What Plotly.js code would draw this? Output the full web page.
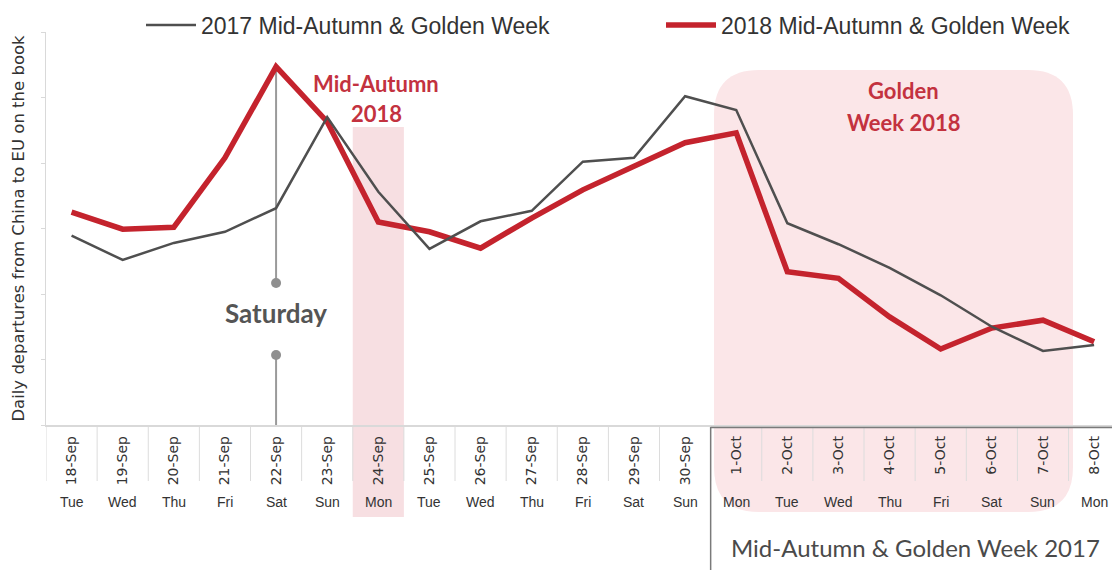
<!DOCTYPE html>
<html>
<head>
<meta charset="utf-8">
<script src="https://cdn.plot.ly/plotly-3.0.1.min.js"></script>
<style>html,body{margin:0;padding:0;background:#fff;}#chart{width:1112px;height:570px;}</style>
</head>
<body>
<div id="chart"></div>
<script>
// ---- data ----
var categories = ['18-Sep','19-Sep','20-Sep','21-Sep','22-Sep','23-Sep','24-Sep','25-Sep','26-Sep','27-Sep','28-Sep','29-Sep','30-Sep',
                  '1-Oct','2-Oct','3-Oct','4-Oct','5-Oct','6-Oct','7-Oct','8-Oct'];
var weekdays = ['Tue','Wed','Thu','Fri','Sat','Sun','Mon','Tue','Wed','Thu','Fri','Sat','Sun',
                'Mon','Tue','Wed','Thu','Fri','Sat','Sun','Mon'];
var departures2017 = [2.89,2.52,2.78,2.95,3.31,4.70,3.56,2.69,3.11,3.27,4.02,4.08,5.02,
                      4.81,3.08,2.76,2.40,1.98,1.50,1.13,1.22];
var departures2018 = [3.25,2.99,3.02,4.08,5.47,4.63,3.10,2.95,2.70,3.16,3.59,3.95,4.31,
                      4.46,2.34,2.24,1.65,1.16,1.48,1.60,1.27];
var seriesNames = ['2017 Mid-Autumn & Golden Week','2018 Mid-Autumn & Golden Week'];
var midAutumnDay = '24-Sep';
var saturdayDay = '22-Sep';
var goldenWeekStart = '1-Oct';

// ---- layout helpers (pixel geometry of the figure) ----
var W = 1112, H = 570, ML = 46, MR = 0, MT = 32, MB = 145;
var PW = W - ML - MR, PH = H - MT - MB;
function px2paperX(px){ return (px - ML) / PW; }
function px2paperY(py){ return (H - MB - py) / PH; }
var YMAX = 6;
function py2val(py){ return (H - MB - py) / PH * YMAX; }

var red = '#c4232d', gray = '#4f4f4f', redText = '#c3323f';

var traces = [
  {x: categories, y: departures2018, name: seriesNames[1], type: 'scatter', mode: 'lines',
   line: {color: red, width: 5.5}, legend: 'legend2'},
  {x: categories, y: departures2017, name: seriesNames[0], type: 'scatter', mode: 'lines',
   line: {color: gray, width: 2.5}, legend: 'legend'}
];

var shapes = [];
// Golden Week 2018 rounded box
(function(){
  var x0 = px2paperX(714), x1 = px2paperX(1073), yt = px2paperY(70), yb = px2paperY(512);
  var rx = 45 / PW, ry = 45 / PH;
  var p = 'M' + (x0+rx) + ',' + yt + ' L' + (x1-rx) + ',' + yt +
          ' Q' + x1 + ',' + yt + ' ' + x1 + ',' + (yt-ry) +
          ' L' + x1 + ',' + (yb+ry) +
          ' Q' + x1 + ',' + yb + ' ' + (x1-rx) + ',' + yb +
          ' L' + (x0+rx) + ',' + yb +
          ' Q' + x0 + ',' + yb + ' ' + x0 + ',' + (yb+ry) +
          ' L' + x0 + ',' + (yt-ry) +
          ' Q' + x0 + ',' + yt + ' ' + (x0+rx) + ',' + yt + ' Z';
  shapes.push({type: 'path', xref: 'paper', yref: 'paper', path: p, fillcolor: '#fbe6e8',
               line: {width: 0}, layer: 'below'});
})();
// Mid-Autumn 2018 band
var mi = categories.indexOf(midAutumnDay);
shapes.push({type: 'rect', xref: 'x', yref: 'paper', x0: mi - 0.5, x1: mi + 0.5,
             y0: px2paperY(517), y1: px2paperY(127), fillcolor: '#f7dfe2', line: {width: 0}, layer: 'below'});
// category separators in label area
for (var i = 0; i <= categories.length; i++) {
  shapes.push({type: 'line', xref: 'x', yref: 'paper', x0: i - 0.5, x1: i - 0.5,
               y0: px2paperY(427), y1: px2paperY(481), line: {color: '#dcdcdc', width: 1}, layer: 'above'});
}
// 2017 box (dark frame)
var gi = categories.indexOf(goldenWeekStart);
shapes.push({type: 'line', xref: 'x', yref: 'paper', x0: gi - 0.5, x1: gi - 0.5,
             y0: px2paperY(427), y1: px2paperY(575), line: {color: '#7a7a7a', width: 1.5}});
shapes.push({type: 'line', xref: 'x', yref: 'paper', x0: gi - 0.5, x1: categories.length,
             y0: px2paperY(427.5), y1: px2paperY(427.5), line: {color: '#7a7a7a', width: 1.5}});
// Saturday marker line + dots
var si = categories.indexOf(saturdayDay);
var dotTop = py2val(283), dotBottom = py2val(355);
shapes.push({type: 'line', xref: 'x', yref: 'y', x0: si, x1: si, y0: departures2018[si], y1: dotTop,
             line: {color: '#9a9a9a', width: 2}, layer: 'below'});
shapes.push({type: 'line', xref: 'x', yref: 'y', x0: si, x1: si, y0: dotBottom, y1: 0,
             line: {color: '#9a9a9a', width: 2}, layer: 'below'});
[dotTop, dotBottom].forEach(function(v){
  shapes.push({type: 'circle', xref: 'x', yref: 'y', xsizemode: 'pixel', ysizemode: 'pixel',
               xanchor: si, yanchor: v, x0: -5, x1: 5, y0: -5, y1: 5,
               fillcolor: '#8f8f8f', line: {width: 0}});
});

var annotations = [];
function note(xref, x, py, text, size, color, family){
  annotations.push({xref: xref, yref: 'paper', x: x, y: px2paperY(py), text: text,
                    xanchor: 'center', yanchor: 'middle', showarrow: false,
                    font: {family: family || 'Lato, sans-serif', size: size, color: color}});
}
// weekday row
categories.forEach(function(c, i){
  note('x', c, 502, weekdays[i], 14, '#333', 'Liberation Sans, Arial, sans-serif');
});
note('paper', px2paperX(915), 547, 'Mid-Autumn & Golden Week 2017', 24, '#4a4a4a');
note('x', saturdayDay, 313, '<b>Saturday</b>', 26, '#555');
note('paper', px2paperX(376), 83, '<b>Mid-Autumn</b>', 22, redText);
note('paper', px2paperX(376), 113, '<b>2018</b>', 22, redText);
note('paper', px2paperX(903), 90, '<b>Golden</b>', 22, redText);
note('paper', px2paperX(903), 122, '<b>Week 2018</b>', 22, redText);

var legendFont = {family: 'Liberation Sans, Arial, sans-serif', size: 23, color: '#333'};
var layout = {
  width: W, height: H,
  margin: {l: ML, r: MR, t: MT, b: MB},
  paper_bgcolor: '#fff', plot_bgcolor: 'rgba(0,0,0,0)',
  showlegend: true,
  legend: {orientation: 'h', x: px2paperX(141), xanchor: 'left', y: px2paperY(25), yanchor: 'middle',
           itemwidth: 50, font: legendFont, bgcolor: 'rgba(0,0,0,0)'},
  legend2: {orientation: 'h', x: px2paperX(661), xanchor: 'left', y: px2paperY(25), yanchor: 'middle',
           itemwidth: 50, font: legendFont, bgcolor: 'rgba(0,0,0,0)'},
  xaxis: {type: 'category', range: [-0.5, 20.35], showgrid: false, zeroline: false,
          showline: true, linecolor: '#d9d9d9', linewidth: 1.5,
          ticks: '', tickangle: -90, ticklabelstandoff: 4,
          tickfont: {family: 'DejaVu Sans, sans-serif', size: 14, color: '#333'}, fixedrange: true},
  yaxis: {range: [0, YMAX], showgrid: false, zeroline: false, showline: true, linecolor: '#d9d9d9',
          ticks: 'outside', tickvals: [0,1,2,3,4,5,6], ticklen: 4, tickcolor: '#d9d9d9', showticklabels: false,
          title: {text: 'Daily departures from China to EU on the book', standoff: 12,
                  font: {family: 'DejaVu Sans, sans-serif', size: 16.5, color: '#333'}}, fixedrange: true},
  shapes: shapes,
  annotations: annotations
};

Plotly.newPlot('chart', traces, layout, {displayModeBar: false, staticPlot: true});
</script>
</body>
</html>
